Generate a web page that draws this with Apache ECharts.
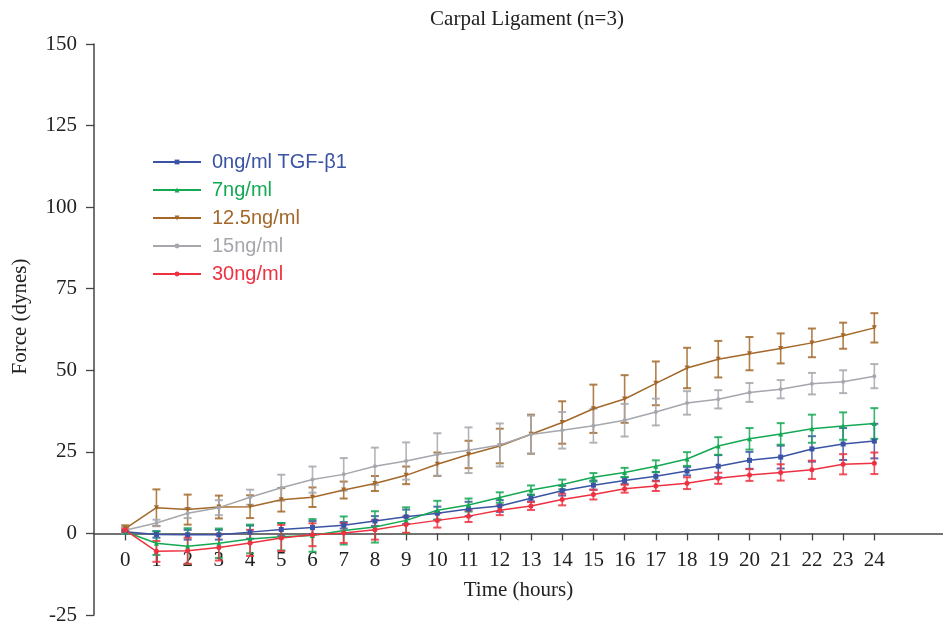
<!DOCTYPE html>
<html>
<head>
<meta charset="utf-8">
<script src="https://cdn.jsdelivr.net/npm/echarts@6/dist/echarts.min.js"></script>
<style>
    html, body { margin: 0; padding: 0; background: #fff; }
    #chart { width: 943px; height: 625px; }
</style>
</head>
<body>
<div id="chart"></div>
<script>
    // hours on the x axis
    var hours = [0, 1, 2, 3, 4, 5, 6, 7, 8, 9, 10, 11, 12, 13, 14, 15, 16, 17, 18, 19, 20, 21, 22, 23, 24]
    var yTicks = [-25, 0, 25, 50, 75, 100, 125, 150]

    var names = ['0ng/ml TGF-β1', '7ng/ml', '12.5ng/ml', '15ng/ml', '30ng/ml']
    var colors = ['#3a53a4', '#14a853', '#a3682a', '#a5a7ad', '#ee3140']

    // mean force per hour
    var force0 = [0.5, -0.3, -0.4, -0.4, 0.4, 1.2, 1.8, 2.5, 3.8, 5.1, 6.2, 7.5, 8.4, 10.8, 13.1, 14.8, 16.2, 17.5, 19.1, 20.6, 22.4, 23.4, 25.9, 27.4, 28.3]
    var force7 = [0.5, -3.0, -3.9, -3.0, -1.7, -1.0, -0.6, 0.9, 2.0, 4.0, 7.1, 8.7, 11.0, 13.3, 15.0, 17.2, 18.7, 20.6, 22.8, 26.8, 29.0, 30.5, 32.1, 32.9, 33.7]
    var force125 = [1.5, 7.9, 7.3, 8.1, 8.2, 10.3, 11.1, 13.3, 15.3, 17.8, 21.2, 24.2, 26.8, 30.4, 34.0, 38.2, 41.2, 46.0, 50.7, 53.4, 55.1, 56.7, 58.4, 60.6, 63.0]
    var force15 = [1.0, 3.2, 6.2, 7.9, 11.1, 14.0, 16.5, 18.1, 20.6, 22.2, 24.2, 25.5, 27.1, 30.3, 31.6, 33.0, 34.7, 37.2, 40.0, 41.1, 43.2, 44.2, 45.9, 46.5, 48.2]
    var force30 = [1.0, -5.5, -5.3, -4.3, -2.9, -1.4, -0.4, 0.1, 1.1, 2.7, 4.0, 5.3, 7.1, 8.4, 10.4, 11.9, 13.7, 14.5, 15.4, 16.9, 17.9, 18.7, 19.5, 21.2, 21.5]

    // error (+/-) per hour
    var err0 = [0.5, 1, 1.5, 1.5, 2, 2, 2, 1, 1.5, 2.2, 2, 2.2, 1.8, 1, 1.5, 1.4, 1, 1.3, 1.3, 3.4, 2.6, 3.5, 3.9, 4.9, 5.3]
    var err7 = [0.5, 3.6, 5.5, 4.5, 4.4, 4.2, 5, 4.3, 4.8, 4, 2.9, 2, 1.6, 1.4, 1.5, 1.3, 1.4, 1.8, 2.1, 2.7, 3.3, 3.3, 4.3, 4.2, 4.7]
    var err125 = [1, 5.6, 4.6, 3.5, 3.5, 3.6, 3, 2.6, 2.3, 2.7, 3.6, 4.2, 5.3, 6, 6.5, 7.4, 7.3, 6.7, 6.2, 5.6, 5.1, 4.6, 4.4, 4, 4.5]
    var err15 = [1, 1, 1.5, 2.3, 2.3, 4, 4, 5, 5.7, 5.7, 6.5, 7, 6.6, 5.8, 5.6, 5.2, 5, 4.1, 3.6, 2.8, 2.9, 2.8, 3.3, 3.5, 3.7]
    var err30 = [0.5, 3.2, 4, 4, 4, 4, 3.5, 3, 3, 2.5, 2.2, 1.8, 1.5, 1.2, 1.8, 1.5, 1.2, 1.5, 1.8, 1.7, 1.8, 2.5, 2.8, 3.1, 3.3]

    var allForce = [force0, force7, force125, force15, force30]
    var allErr = [err0, err7, err125, err15, err30]
    var symbols = ['rect', 'triangle', 'triangle', 'circle', 'circle']
    var symbolRotates = [0, 0, 180, 0, 0]
    var symbolSizes = [5, 5, 5, 4, 5]

    var serif = '"Liberation Serif", "DejaVu Serif", serif'
    var sans = '"Liberation Sans", Arial, sans-serif'

    var myChart = echarts.init(document.getElementById('chart'))

    // 误差线
    function errorSeries(i) {
        var data = hours.map(function (h, k) {
            return [h, allForce[i][k] - allErr[i][k], allForce[i][k] + allErr[i][k]]
        })
        return {
            type: 'custom',
            name: 'err' + i,
            z: 2,
            data: data,
            encode: { x: 0, y: [1, 2] },
            renderItem: function (params, api) {
                var lo = api.coord([api.value(0), api.value(1)])
                var hi = api.coord([api.value(0), api.value(2)])
                var hw = 4
                var cap = { stroke: colors[i], lineWidth: 2, opacity: 0.85 }
                return {
                    type: 'group',
                    children: [
                        { type: 'line', shape: { x1: lo[0], y1: lo[1], x2: hi[0], y2: hi[1] }, style: { stroke: colors[i], lineWidth: 1.6, opacity: 0.85 } },
                        { type: 'line', shape: { x1: lo[0] - hw, y1: lo[1], x2: lo[0] + hw, y2: lo[1] }, style: cap },
                        { type: 'line', shape: { x1: hi[0] - hw, y1: hi[1], x2: hi[0] + hw, y2: hi[1] }, style: cap }
                    ]
                }
            }
        }
    }

    var series = []
    for (var i = 0; i < names.length; i++) series.push(errorSeries(i))
    for (var j = 0; j < names.length; j++) {
        series.push({
            type: 'line',
            name: names[j],
            z: 3,
            data: hours.map(function (h, k) { return [h, allForce[j][k]] }),
            symbol: symbols[j],
            symbolRotate: symbolRotates[j],
            symbolSize: symbolSizes[j],
            showAllSymbol: true,
            lineStyle: { color: colors[j], width: 1.5 },
            itemStyle: { color: colors[j] }
        })
    }

    var option = {
        animation: false,
        backgroundColor: '#fff',
        title: {
            text: 'Carpal Ligament (n=3)',
            left: 522,
            top: 4,
            textAlign: 'center',
            textStyle: { fontFamily: serif, fontSize: 21, fontWeight: 'normal', color: '#222' }
        },
        legend: {
            orient: 'vertical',
            left: 152,
            top: 152,
            padding: 0,
            itemWidth: 48,
            itemHeight: 6,
            itemGap: 8,
            data: names.map(function (n, k) {
                return { name: n, textStyle: { color: colors[k] } }
            }),
            textStyle: { fontFamily: sans, fontSize: 20, lineHeight: 20, padding: [0, 0, 0, 6] }
        },
        grid: { left: 94, right: 0, top: 44, bottom: 10, containLabel: false, outerBoundsMode: 'none' },
        xAxis: {
            type: 'value',
            min: -1,
            max: 26.2,
            name: 'Time (hours)',
            nameLocation: 'middle',
            nameGap: -35,
            nameTextStyle: { fontFamily: serif, fontSize: 21, color: '#222' },
            axisLine: { onZero: true, lineStyle: { color: '#444', width: 1.5 } },
            axisTick: { customValues: hours, length: 7, lineStyle: { color: '#444', width: 1.3 } },
            // labels sit at the grid edge, pull them up under the zero line
            axisLabel: { customValues: hours, margin: -65, fontFamily: serif, fontSize: 21, color: '#222' },
            splitLine: { show: false }
        },
        yAxis: {
            type: 'value',
            min: -25,
            max: 150,
            interval: 25,
            name: 'Force (dynes)',
            nameLocation: 'middle',
            nameGap: 63,
            nameRotate: 90,
            nameTextStyle: { fontFamily: serif, fontSize: 21, color: '#222', padding: [0, 0, 0, 26] },
            axisLine: { onZero: false, lineStyle: { color: '#444', width: 1.5 } },
            axisTick: { customValues: yTicks, length: 8, lineStyle: { color: '#444', width: 1.3 } },
            axisLabel: { customValues: yTicks, margin: 17, fontFamily: serif, fontSize: 21, color: '#222' },
            splitLine: { show: false }
        },
        series: series
    }

    myChart.setOption(option)
</script>
</body>
</html>
